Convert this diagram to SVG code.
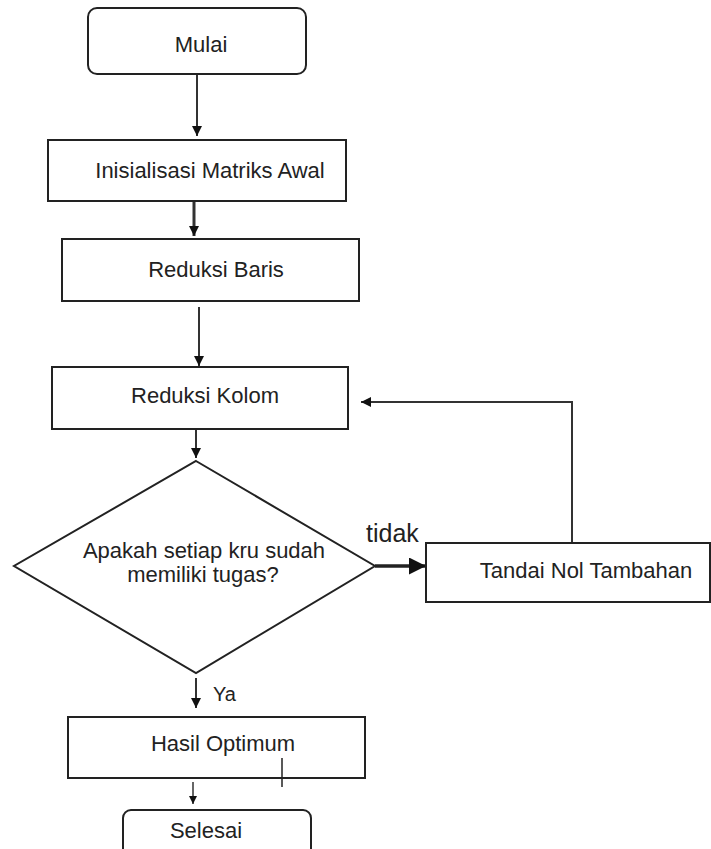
<svg xmlns="http://www.w3.org/2000/svg" width="711" height="849" viewBox="0 0 711 849">
  <style>
    .box { fill: #ffffff; stroke: #222222; stroke-width: 2; }
    .lbl { font-family: "Liberation Sans", Arial, sans-serif; font-size: 22px; fill: #222222; text-anchor: middle; }
    .edge { fill: none; stroke: #333333; stroke-width: 2; }
    .thick { fill: none; stroke: #222222; stroke-width: 3.5; }
  </style>
  <defs>
    <marker id="ah" markerWidth="10" markerHeight="10" refX="10" refY="5" orient="auto" markerUnits="userSpaceOnUse" viewBox="0 0 10 10">
      <path d="M0,0 L10,5 L0,10 Z" fill="#111111"/>
    </marker>
    <marker id="ahBig" markerWidth="17" markerHeight="17" refX="17" refY="8.5" orient="auto" markerUnits="userSpaceOnUse" viewBox="0 0 17 17">
      <path d="M0,0 L17,8.5 L0,17 Z" fill="#111111"/>
    </marker>
    <marker id="ahSmall" markerWidth="8" markerHeight="8" refX="8" refY="4" orient="auto" markerUnits="userSpaceOnUse" viewBox="0 0 8 8">
      <path d="M0,0 L8,4 L0,8 Z" fill="#111111"/>
    </marker>
  </defs>
  <rect width="711" height="849" fill="#ffffff"/>

  <g id="connectors">
    <line class="edge" x1="197" y1="74" x2="197" y2="136" marker-end="url(#ah)"/>
    <line class="edge" x1="194" y1="200" x2="194" y2="236" marker-end="url(#ah)" style="stroke-width:3"/>
    <line class="edge" x1="199" y1="307" x2="199" y2="366" marker-end="url(#ah)"/>
    <line class="edge" x1="196" y1="429" x2="196" y2="458" marker-end="url(#ah)"/>
    <line class="thick" x1="375" y1="566" x2="426" y2="566" marker-end="url(#ahBig)"/>
    <polyline class="edge" points="572,543 572,402 361,402" marker-end="url(#ah)"/>
    <line class="edge" x1="196" y1="678" x2="196" y2="708" marker-end="url(#ah)"/>
    <line class="edge" x1="193" y1="782" x2="193" y2="804" marker-end="url(#ahSmall)" style="stroke-width:1.5"/>
    <text class="lbl" x="366" y="542" style="text-anchor:start;font-size:25px">tidak</text>
    <text class="lbl" x="213" y="701" style="text-anchor:start;font-size:20px">Ya</text>
  </g>

  <g id="mulai">
    <rect class="box" x="88" y="8" width="218" height="66" rx="9"/>
    <text class="lbl" x="201" y="52">Mulai</text>
  </g>
  <g id="inisialisasi">
    <rect class="box" x="48" y="140" width="298" height="61"/>
    <text class="lbl" x="210" y="178">Inisialisasi Matriks Awal</text>
  </g>
  <g id="reduksi-baris">
    <rect class="box" x="62" y="239" width="297" height="62"/>
    <text class="lbl" x="216" y="277">Reduksi Baris</text>
  </g>
  <g id="reduksi-kolom">
    <rect class="box" x="52" y="367" width="296" height="62"/>
    <text class="lbl" x="205" y="403">Reduksi Kolom</text>
  </g>
  <g id="keputusan">
    <polygon class="box" points="196,461 375,566 196,673 14,566"/>
    <text class="lbl" x="204" y="558">Apakah setiap kru sudah</text>
    <text class="lbl" x="203" y="582">memiliki tugas?</text>
  </g>
  <g id="tandai">
    <rect class="box" x="426" y="543" width="284" height="59"/>
    <text class="lbl" x="586" y="578">Tandai Nol Tambahan</text>
  </g>
  <g id="hasil">
    <rect class="box" x="68" y="717" width="297" height="61"/>
    <text class="lbl" x="223" y="751">Hasil Optimum</text>
    <line x1="282" y1="758" x2="282" y2="787" stroke="#222222" stroke-width="1.5"/>
  </g>
  <g id="selesai">
    <rect class="box" x="123" y="810" width="188" height="50" rx="8"/>
    <text class="lbl" x="206" y="838">Selesai</text>
  </g>
</svg>
